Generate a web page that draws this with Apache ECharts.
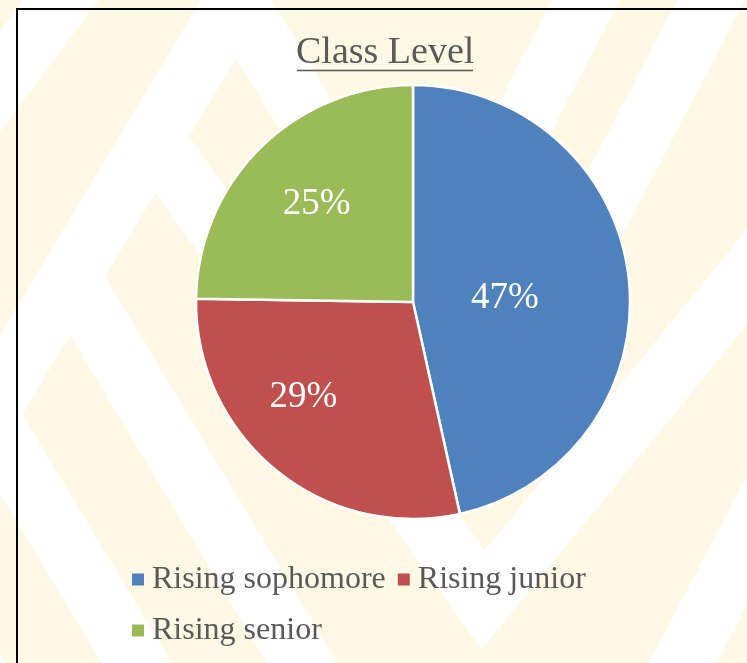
<!DOCTYPE html>
<html>
<head>
<meta charset="utf-8">
<script src="https://cdn.jsdelivr.net/npm/echarts@6/dist/echarts.min.js"></script>
<style>
html,body{margin:0;padding:0;background:#fff;}
#chart{width:747px;height:663px;}
</style>
</head>
<body>
<div id="chart"></div>
<script>
// ---- data ----
var categories = ['Rising sophomore', 'Rising junior', 'Rising senior'];
var percentValues = [47, 29, 25];
var chartTitle = 'Class Level';

// ---- styling ----
var sliceColors = ['#4F81BD', '#C0504D', '#9BBB59'];
var labelOffsets = [[-19, 8], [-39, 9], [-18, -18]];
var serif = '"Liberation Serif", "Times New Roman", serif';
var textGrey = '#595959';

// decorative background stripes (centre lines of white bands)
var whiteBands = [
  [[136, -100], [-164, 300]],
  [[296, -100], [-244, 800]],
  [[236, 0], [492, 420], [770, -113]],
  [[153, 138], [483, 600], [703, 331], [850, 150]],
  [[70, 276], [384, 800]],
  [[-13, 414], [219, 800]],
  [[-96, 552], [53, 800]],
  [[620, 783], [810, 420]],
  [[638, -100], [430, 300]]
];

var graphics = [];
whiteBands.forEach(function (pts) {
  graphics.push({
    type: 'polyline', silent: true, z: -10,
    shape: { points: pts },
    style: { stroke: '#ffffff', lineWidth: 60, fill: null, lineJoin: 'miter' }
  });
});
// chart-area border
graphics.push({
  type: 'polyline', silent: true, z: 50,
  shape: { points: [[17, 700], [17, 9], [760, 9]] },
  style: { stroke: '#000000', lineWidth: 2, fill: null }
});
// title underline
graphics.push({
  type: 'line', silent: true, z: 50,
  shape: { x1: 297, y1: 70.5, x2: 473, y2: 70.5 },
  style: { stroke: textGrey, lineWidth: 1.5 }
});

var chart = echarts.init(document.getElementById('chart'), null, { renderer: 'canvas' });
chart.setOption({
  animation: false,
  backgroundColor: '#FEF8E5',
  color: sliceColors,
  title: {
    text: chartTitle,
    left: 296,
    top: 34,
    padding: 0,
    textStyle: { fontFamily: serif, fontSize: 38, fontWeight: 'normal', color: textGrey, lineHeight: 38 }
  },
  legend: {
    data: categories,
    left: 132,
    top: 560,
    width: 470,
    padding: 0,
    orient: 'horizontal',
    itemWidth: 12,
    itemHeight: 12,
    itemGap: 12,
    icon: 'rect',
    itemStyle: { borderWidth: 0 },
    textStyle: { fontFamily: serif, fontSize: 32, color: textGrey, lineHeight: 39, padding: [0, 0, 0, 3] }
  },
  graphic: graphics,
  series: [{
    type: 'pie',
    center: [413, 302],
    radius: 217,
    startAngle: 90,
    clockwise: true,
    avoidLabelOverlap: false,
    itemStyle: { borderColor: '#ffffff', borderWidth: 2.5 },
    label: {
      show: true,
      position: 'inside',
      formatter: '{c}%',
      fontFamily: serif,
      fontSize: 37,
      color: '#ffffff'
    },
    labelLine: { show: false },
    emphasis: { disabled: true },
    data: categories.map(function (name, i) {
      return { name: name, value: percentValues[i], label: { offset: labelOffsets[i] } };
    })
  }]
});
</script>
</body>
</html>
